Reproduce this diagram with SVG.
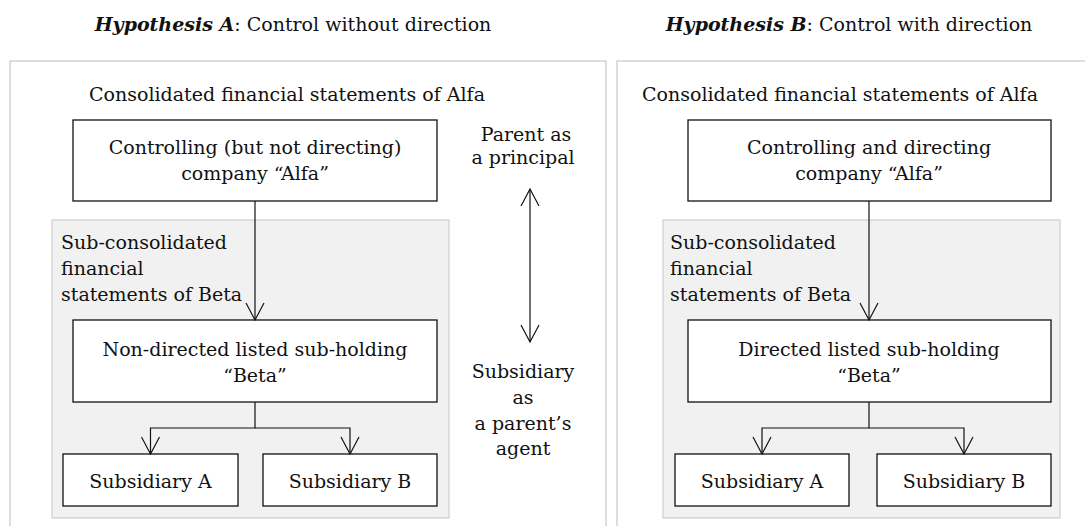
<svg xmlns="http://www.w3.org/2000/svg" width="1085" height="526" viewBox="0 0 1085 526">
  <style>
    text { font-family: "DejaVu Serif", "Liberation Serif", serif; font-size: 19px; fill: #111; }
    .c { text-anchor: middle; }
    .hb { font-weight: bold; font-style: italic; }
    .panel { fill: #fff; stroke: #c8c8c8; stroke-width: 1.2; }
    .group { fill: #f1f1f1; stroke: #cfcfcf; stroke-width: 1.2; }
    .node { fill: #fff; stroke: #111; stroke-width: 1.3; }
    .link { fill: none; stroke: #111; stroke-width: 1.2; }
  </style>
  <defs>
    <marker id="open" viewBox="0 0 20 20" refX="18" refY="10" markerWidth="20" markerHeight="20" markerUnits="userSpaceOnUse" orient="auto-start-reverse">
      <path d="M1,1 L18,10 L1,19" fill="none" stroke="#111" stroke-width="1.2"/>
    </marker>
  </defs>

  <!-- panel titles -->
  <text class="c" x="293" y="31"><tspan class="hb">Hypothesis A</tspan>: Control without direction</text>
  <text class="c" x="849" y="31"><tspan class="hb">Hypothesis B</tspan>: Control with direction</text>

  <!-- panel frames (open at the bottom edge) -->
  <rect class="panel" x="10" y="61" width="596" height="480"/>
  <rect class="panel" x="617" y="61" width="480" height="480"/>

  <!-- Hypothesis A -->
  <g id="consolidated-a">
    <text class="c" x="287" y="101">Consolidated financial statements of Alfa</text>
  </g>
  <g id="subgroup-a">
    <rect class="group" x="52" y="220" width="397" height="298"/>
    <text x="61" y="249">Sub-consolidated</text>
    <text x="61" y="275">financial</text>
    <text x="61" y="301">statements of Beta</text>
  </g>
  <g id="alfa-a">
    <rect class="node" x="73" y="120" width="364" height="81"/>
    <text class="c" x="255" y="154">Controlling (but not directing)</text>
    <text class="c" x="255" y="180">company “Alfa”</text>
  </g>
  <g id="beta-a">
    <rect class="node" x="73" y="320" width="364" height="82"/>
    <text class="c" x="255" y="356">Non-directed listed sub-holding</text>
    <text class="c" x="255" y="382">“Beta”</text>
  </g>
  <g id="sub-a-a">
    <rect class="node" x="63" y="454" width="175" height="52"/>
    <text class="c" x="150.5" y="488">Subsidiary A</text>
  </g>
  <g id="sub-b-a">
    <rect class="node" x="263" y="454" width="174" height="52"/>
    <text class="c" x="350" y="488">Subsidiary B</text>
  </g>

  <!-- role labels between panels -->
  <g id="parent-label">
    <text class="c" x="526" y="141">Parent as</text>
    <text class="c" x="523" y="164">a principal</text>
  </g>
  <g id="agent-label">
    <text class="c" x="523" y="378">Subsidiary</text>
    <text class="c" x="523" y="404">as</text>
    <text class="c" x="523" y="430">a parent’s</text>
    <text class="c" x="523" y="455">agent</text>
  </g>

  <!-- Hypothesis B -->
  <g id="consolidated-b">
    <text class="c" x="840" y="101">Consolidated financial statements of Alfa</text>
  </g>
  <g id="subgroup-b">
    <rect class="group" x="663" y="220" width="397" height="298"/>
    <text x="670" y="249">Sub-consolidated</text>
    <text x="670" y="275">financial</text>
    <text x="670" y="301">statements of Beta</text>
  </g>
  <g id="alfa-b">
    <rect class="node" x="688" y="120" width="363" height="81"/>
    <text class="c" x="869" y="154">Controlling and directing</text>
    <text class="c" x="869" y="180">company “Alfa”</text>
  </g>
  <g id="beta-b">
    <rect class="node" x="688" y="320" width="363" height="82"/>
    <text class="c" x="869" y="356">Directed listed sub-holding</text>
    <text class="c" x="869" y="382">“Beta”</text>
  </g>
  <g id="sub-a-b">
    <rect class="node" x="675" y="454" width="174" height="52"/>
    <text class="c" x="762" y="488">Subsidiary A</text>
  </g>
  <g id="sub-b-b">
    <rect class="node" x="877" y="454" width="174" height="52"/>
    <text class="c" x="964" y="488">Subsidiary B</text>
  </g>

  <!-- connectors -->
  <g id="connectors">
    <line class="link" x1="255" y1="201" x2="255" y2="320" marker-end="url(#open)"/>
    <path class="link" d="M255,402 V428 H150.5 V454" marker-end="url(#open)"/>
    <path class="link" d="M255,428 H350 V454" marker-end="url(#open)"/>
    <line class="link" x1="530" y1="189" x2="530" y2="342" marker-start="url(#open)" marker-end="url(#open)"/>
    <line class="link" x1="869" y1="201" x2="869" y2="320" marker-end="url(#open)"/>
    <path class="link" d="M869,402 V428 H762 V454" marker-end="url(#open)"/>
    <path class="link" d="M869,428 H964 V454" marker-end="url(#open)"/>
  </g>
</svg>
